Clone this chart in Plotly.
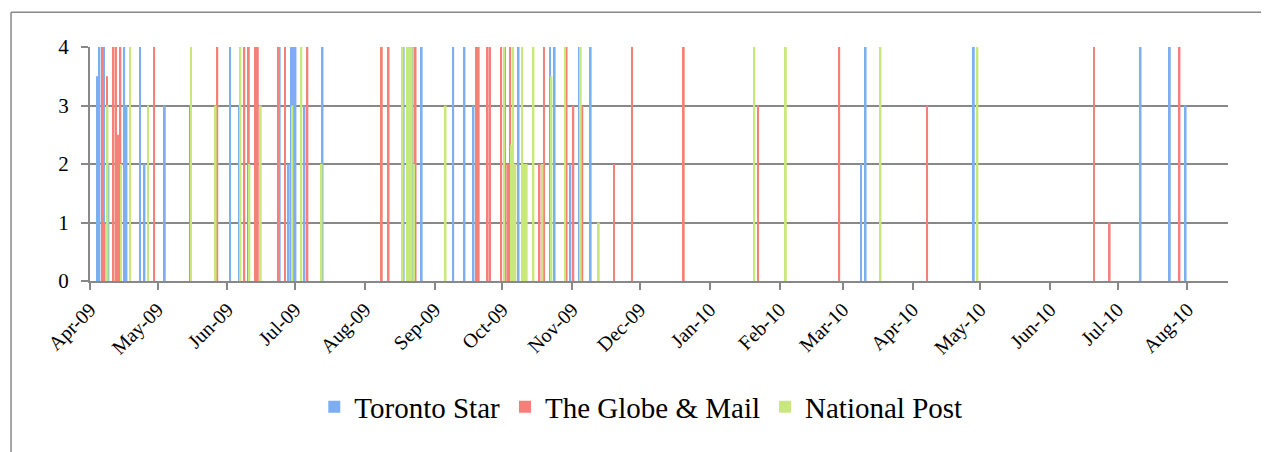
import plotly.graph_objects as go

# Toronto Star
star_dates = ["2009-04-04", "2009-04-05", "2009-04-07", "2009-04-09", "2009-04-16", "2009-04-17",
              "2009-04-23", "2009-04-25", "2009-05-04", "2009-06-02", "2009-06-06", "2009-06-24",
              "2009-06-28", "2009-06-29", "2009-06-30", "2009-07-01", "2009-07-05", "2009-07-13",
              "2009-08-18", "2009-08-22", "2009-08-26", "2009-09-09", "2009-09-14", "2009-09-18",
              "2009-10-02", "2009-10-08", "2009-10-22", "2009-10-24", "2009-10-31", "2009-11-04",
              "2009-11-09", "2010-03-09", "2010-03-11", "2010-04-28", "2010-07-11", "2010-07-24",
              "2010-07-31"]
star_vals = [3.5, 4, 4, 2, 4, 3, 4, 2, 3, 4, 3, 4, 2, 4, 4, 4, 3, 4, 4, 4, 4, 4, 4, 3,
             4, 4, 4, 4, 2, 4, 4, 2, 4, 4, 4, 4, 3]

# The Globe & Mail
globe_dates = ["2009-04-06", "2009-04-07", "2009-04-08", "2009-04-11", "2009-04-12", "2009-04-13",
               "2009-04-14", "2009-04-29", "2009-05-15", "2009-05-27", "2009-06-08", "2009-06-10",
               "2009-06-13", "2009-06-14", "2009-06-23", "2009-06-26", "2009-07-06", "2009-08-08",
               "2009-08-11", "2009-08-23", "2009-09-19", "2009-09-20", "2009-09-24", "2009-09-25",
               "2009-09-30", "2009-10-02", "2009-10-03", "2009-10-04", "2009-10-17", "2009-10-19",
               "2009-10-29", "2009-11-01", "2009-11-05", "2009-11-19", "2009-11-27", "2009-12-20",
               "2010-01-22", "2010-02-27", "2010-04-07", "2010-06-20", "2010-06-27", "2010-07-28"]
globe_vals = [4, 1, 3.5, 4, 4, 2.5, 4, 4, 3, 4, 4, 4, 4, 4, 4, 4, 4, 4, 4, 4, 4, 4, 4, 4,
              4, 2, 2, 4, 2, 4, 4, 3, 3, 2, 4, 4, 3, 4, 3, 4, 1, 4]

# National Post
post_dates = ["2009-04-08", "2009-04-14", "2009-04-18", "2009-04-26", "2009-05-15", "2009-05-26",
              "2009-06-06", "2009-06-10", "2009-06-15", "2009-06-29", "2009-07-03", "2009-07-12",
              "2009-08-17", "2009-08-19", "2009-08-20", "2009-08-21", "2009-08-22", "2009-09-05",
              "2009-10-01", "2009-10-04", "2009-10-05", "2009-10-06", "2009-10-09", "2009-10-10",
              "2009-10-11", "2009-10-14", "2009-10-18", "2009-10-22", "2009-10-28", "2009-11-04",
              "2009-11-12", "2010-01-20", "2010-02-03", "2010-03-17", "2010-04-29"]
post_vals = [3, 2, 4, 3, 4, 3, 4, 2, 3, 3, 4, 2, 4, 4, 4, 4, 2, 3, 4, 2.33, 4, 2, 4, 2,
             2, 4, 2, 3.5, 4, 4, 1, 4, 4, 4, 4]

DAY = 86400000
bar_w = 0.8 * DAY
font_name = "Liberation Serif"
grey = "#888888"

fig = go.Figure()
series = [
    ("Toronto Star", star_dates, star_vals, "#7eaef2", -0.2),
    ("The Globe & Mail", globe_dates, globe_vals, "#f48079", 0.1),
    ("National Post", post_dates, post_vals, "#c9e87c", 0.4),
]
for name, xs, ys, col, off in series:
    fig.add_trace(go.Bar(x=xs, y=ys, name=name, width=bar_w, offset=off * DAY,
                         marker=dict(color=col, line=dict(width=0))))

# page body adds 8px, margins account for it
fig.update_layout(
    width=1269, height=452,
    barmode="overlay",
    paper_bgcolor="white", plot_bgcolor="white",
    margin=dict(l=82, r=49, t=39, b=179),
    font=dict(family=font_name, color="black"),
    showlegend=True,
    legend=dict(orientation="h", x=0.484, xanchor="center", y=-0.538, yanchor="middle",
                font=dict(size=29, family=font_name), itemsizing="constant"),
)
fig.update_xaxes(type="date", range=["2009-04-01", "2010-08-19"],
                 tick0="2009-04-01", dtick="M1", tickformat="%b-%y", tickangle=-45,
                 ticks="outside", ticklen=7, tickwidth=2, tickcolor=grey,
                 showline=True, linecolor=grey, linewidth=2, showgrid=False,
                 tickfont=dict(size=20, family=font_name))
fig.update_yaxes(range=[0, 4], dtick=1, ticks="outside", ticklen=7, tickwidth=2, tickcolor=grey,
                 showline=True, linecolor=grey, linewidth=2,
                 showgrid=True, gridcolor=grey, gridwidth=2, zeroline=False,
                 tickfont=dict(size=21, family=font_name), ticklabelstandoff=8)

# outer chart frame (left and top edges visible)
fig.add_shape(type="line", xref="paper", yref="paper", x0=-0.0694, x1=1.2, y0=1.149, y1=1.149,
              line=dict(color=grey, width=1.5))
fig.add_shape(type="line", xref="paper", yref="paper", x0=-0.0694, x1=-0.0694, y0=1.149, y1=-1.0,
              line=dict(color=grey, width=1.5))

fig.write_html("out.html")
